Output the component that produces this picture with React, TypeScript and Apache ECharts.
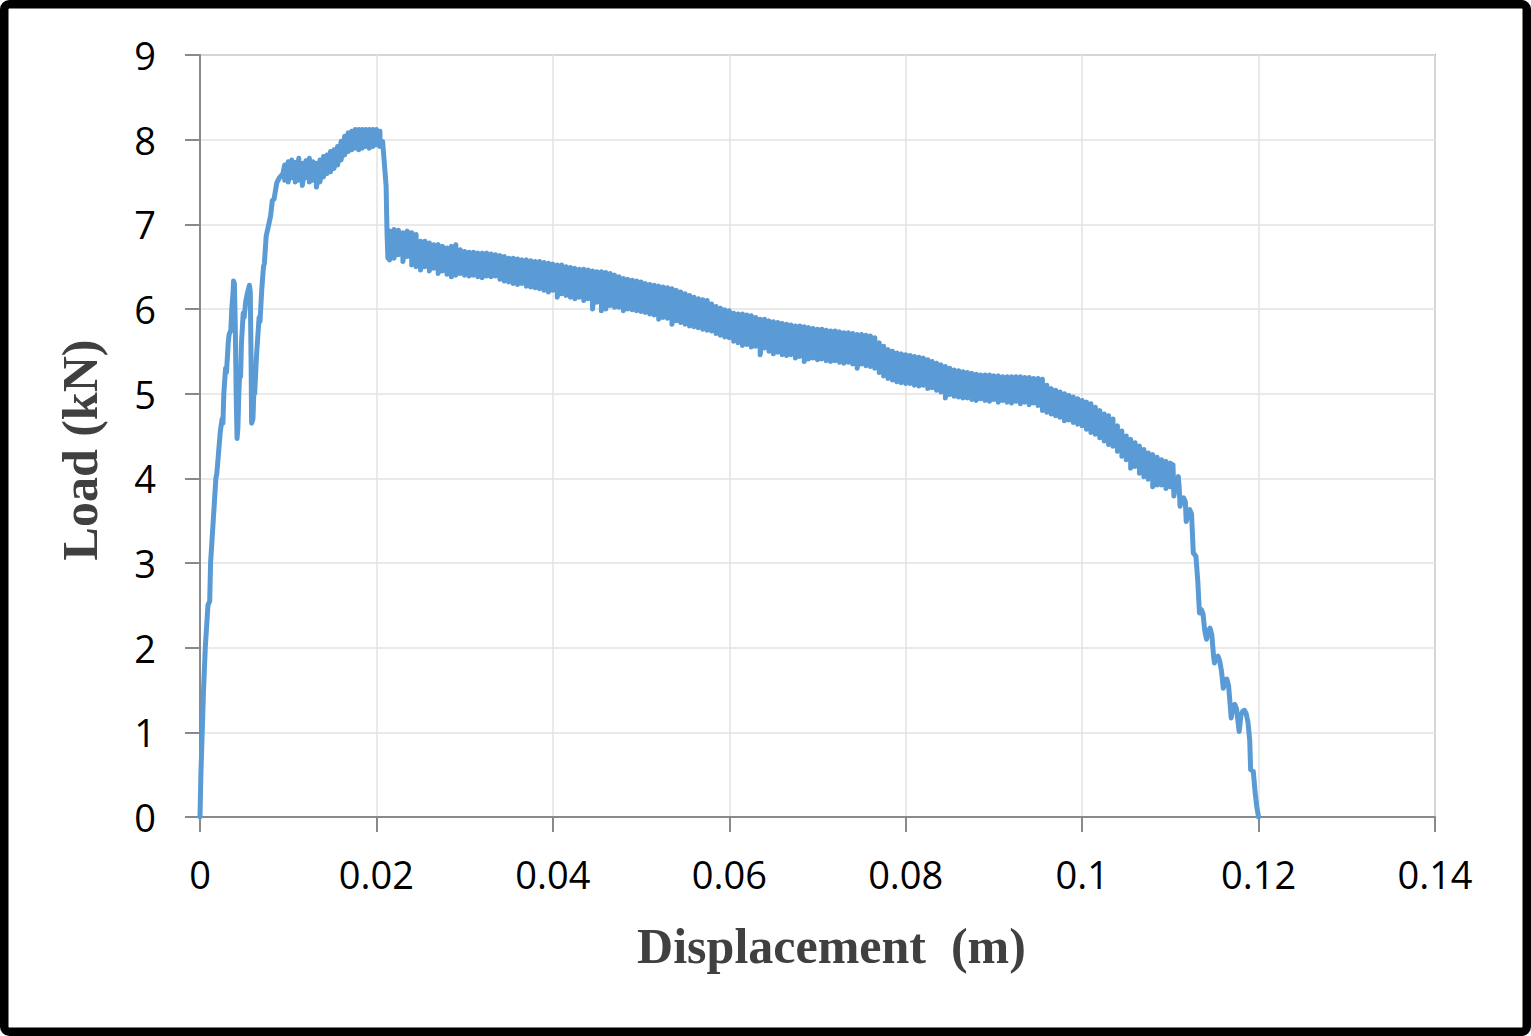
import React, { useEffect, useRef } from "react";
import * as echarts from "echarts";

// Displacement (m) vs Load (kN).
// Rising branch: [displacement, load]
const riseSegment: [number, number][] = [
  [0, 0], [0.0001, 0.5], [0.00025, 1.0], [0.0004, 1.5], [0.0006, 2.0], [0.0009, 2.5], [0.0011, 2.55],
  [0.0012, 3.0], [0.0015, 3.5], [0.0018, 4.0], [0.0019, 4.05], [0.0021, 4.3], [0.0023, 4.55], [0.0025, 4.7],
  [0.0026, 4.65], [0.0027, 5.0], [0.0029, 5.3], [0.003, 5.25], [0.0032, 5.6], [0.0033, 5.7], [0.0035, 5.75],
  [0.0036, 6.0], [0.00375, 6.2], [0.0038, 6.33], [0.0039, 6.3], [0.004, 5.8], [0.0041, 5.0], [0.0042, 4.47],
  [0.0043, 4.6], [0.0044, 5.0], [0.0045, 5.23], [0.0046, 5.2], [0.0047, 5.6], [0.0049, 5.95], [0.005, 5.9],
  [0.0052, 6.1], [0.0054, 6.2], [0.0056, 6.28], [0.0057, 6.2], [0.0058, 5.3], [0.00585, 4.65], [0.006, 4.7],
  [0.0061, 5.0], [0.0062, 5.0], [0.0064, 5.44], [0.0067, 5.9], [0.0068, 5.85], [0.007, 6.23], [0.0072, 6.5],
  [0.0073, 6.54], [0.0075, 6.86], [0.0078, 7.0], [0.008, 7.1], [0.0082, 7.28], [0.0084, 7.3], [0.0087, 7.49],
  [0.009, 7.55], [0.0094, 7.6],
];

// Noisy peak plateau: [displacement, high load, low load] of each oscillation
const peakPlateau: [number, number, number][] = [
  [0.0096, 7.7, 7.52], [0.01, 7.74, 7.5], [0.0104, 7.76, 7.55], [0.0108, 7.73, 7.5], [0.0112, 7.78, 7.52],
  [0.0116, 7.72, 7.46], [0.012, 7.75, 7.55], [0.0124, 7.78, 7.5], [0.0128, 7.74, 7.52], [0.0132, 7.72, 7.44],
  [0.0136, 7.76, 7.5], [0.014, 7.8, 7.56], [0.0144, 7.82, 7.6], [0.0148, 7.86, 7.62], [0.0152, 7.88, 7.66],
  [0.0156, 7.92, 7.7], [0.016, 7.98, 7.76], [0.0164, 8.04, 7.82], [0.0168, 8.08, 7.86], [0.0172, 8.1, 7.88],
  [0.0176, 8.12, 7.9], [0.018, 8.12, 7.88], [0.0184, 8.12, 7.9], [0.0188, 8.12, 7.92], [0.0192, 8.12, 7.9],
  [0.0196, 8.12, 7.92], [0.02, 8.12, 7.94], [0.0204, 8.1, 7.92],
];

// Sudden load drop after the peak: [displacement, load]
const peakDrop: [number, number][] = [
  [0.0207, 7.98], [0.0209, 7.72], [0.0211, 7.45], [0.0212, 6.9], [0.0213, 6.6],
];

// Noisy softening branch: [displacement, high load, low load]
const softeningSegment: [number, number, number][] = [
  [0.0215, 6.92, 6.58], [0.022, 6.94, 6.6], [0.0225, 6.93, 6.64], [0.023, 6.9, 6.56], [0.0235, 6.92, 6.62],
  [0.024, 6.9, 6.52], [0.0245, 6.88, 6.5], [0.025, 6.8, 6.46], [0.0255, 6.8, 6.5], [0.026, 6.78, 6.45],
  [0.0265, 6.76, 6.48], [0.027, 6.76, 6.42], [0.0275, 6.74, 6.45], [0.028, 6.72, 6.41], [0.0285, 6.74, 6.38],
  [0.029, 6.76, 6.4], [0.0295, 6.7, 6.42], [0.03, 6.68, 6.4], [0.0305, 6.67, 6.39], [0.031, 6.67, 6.4],
  [0.0315, 6.66, 6.38], [0.032, 6.66, 6.37], [0.0325, 6.66, 6.39], [0.033, 6.65, 6.38], [0.0335, 6.64, 6.39],
  [0.034, 6.63, 6.35], [0.0345, 6.62, 6.33], [0.035, 6.6, 6.32], [0.0355, 6.6, 6.3], [0.036, 6.59, 6.29],
  [0.0365, 6.58, 6.3], [0.037, 6.58, 6.27], [0.0375, 6.57, 6.26], [0.038, 6.56, 6.25], [0.0385, 6.56, 6.24],
  [0.039, 6.55, 6.22], [0.0395, 6.54, 6.2], [0.04, 6.53, 6.22], [0.0405, 6.52, 6.14], [0.041, 6.52, 6.18],
  [0.0415, 6.5, 6.16], [0.042, 6.49, 6.14], [0.0425, 6.48, 6.12], [0.043, 6.47, 6.14], [0.0435, 6.47, 6.1],
  [0.044, 6.46, 6.12], [0.0445, 6.45, 6.0], [0.045, 6.44, 6.08], [0.0455, 6.44, 5.98], [0.046, 6.43, 6.0],
  [0.0465, 6.42, 6.04], [0.047, 6.4, 6.02], [0.0475, 6.38, 6.02], [0.048, 6.36, 5.98], [0.0485, 6.35, 6.0],
  [0.049, 6.34, 5.99], [0.0495, 6.33, 5.98], [0.05, 6.32, 5.97], [0.0505, 6.3, 5.96], [0.051, 6.29, 5.94],
  [0.0515, 6.28, 5.93], [0.052, 6.27, 5.88], [0.0525, 6.26, 5.9], [0.053, 6.25, 5.89], [0.0535, 6.24, 5.82],
  [0.054, 6.22, 5.86], [0.0545, 6.2, 5.84], [0.055, 6.18, 5.82], [0.0555, 6.16, 5.8], [0.056, 6.14, 5.79],
  [0.0565, 6.12, 5.78], [0.057, 6.11, 5.76], [0.0575, 6.1, 5.75], [0.058, 6.06, 5.74], [0.0585, 6.03, 5.71],
  [0.059, 6.01, 5.69], [0.0595, 5.99, 5.67], [0.06, 5.98, 5.66], [0.0605, 5.95, 5.62], [0.061, 5.94, 5.6],
  [0.0615, 5.94, 5.57], [0.062, 5.93, 5.58], [0.0625, 5.92, 5.55], [0.063, 5.9, 5.56], [0.0635, 5.88, 5.46],
  [0.064, 5.88, 5.54], [0.0645, 5.86, 5.5], [0.065, 5.85, 5.47], [0.0655, 5.84, 5.49], [0.066, 5.83, 5.46],
  [0.0665, 5.82, 5.45], [0.067, 5.81, 5.46], [0.0675, 5.8, 5.42], [0.068, 5.8, 5.44], [0.0685, 5.79, 5.38],
  [0.069, 5.78, 5.41], [0.0695, 5.77, 5.42], [0.07, 5.76, 5.4], [0.0705, 5.76, 5.41], [0.071, 5.75, 5.39],
  [0.0715, 5.74, 5.38], [0.072, 5.74, 5.39], [0.0725, 5.73, 5.37], [0.073, 5.72, 5.36], [0.0735, 5.72, 5.37],
  [0.074, 5.71, 5.35], [0.0745, 5.7, 5.3], [0.075, 5.7, 5.35], [0.0755, 5.69, 5.33], [0.076, 5.68, 5.32],
  [0.0765, 5.66, 5.3], [0.077, 5.6, 5.25], [0.0775, 5.56, 5.21], [0.078, 5.52, 5.18], [0.0785, 5.5, 5.16],
  [0.079, 5.48, 5.14], [0.0795, 5.47, 5.13], [0.08, 5.46, 5.12], [0.0805, 5.45, 5.12], [0.081, 5.44, 5.1],
  [0.0815, 5.43, 5.09], [0.082, 5.42, 5.1], [0.0825, 5.4, 5.06], [0.083, 5.38, 5.07], [0.0835, 5.36, 5.04],
  [0.084, 5.34, 5.02], [0.0845, 5.32, 4.95], [0.085, 5.3, 4.99], [0.0855, 5.28, 4.97], [0.086, 5.27, 4.96],
  [0.0865, 5.26, 4.95], [0.087, 5.25, 4.95], [0.0875, 5.24, 4.93], [0.088, 5.23, 4.92], [0.0885, 5.22, 4.94],
  [0.089, 5.22, 4.92], [0.0895, 5.22, 4.91], [0.09, 5.21, 4.93], [0.0905, 5.21, 4.9], [0.091, 5.2, 4.92],
  [0.0915, 5.2, 4.9], [0.092, 5.2, 4.89], [0.0925, 5.2, 4.91], [0.093, 5.2, 4.88], [0.0935, 5.19, 4.9],
  [0.094, 5.19, 4.87], [0.0945, 5.18, 4.89], [0.095, 5.18, 4.86], [0.0955, 5.17, 4.8], [0.096, 5.1, 4.78],
  [0.0965, 5.06, 4.76], [0.097, 5.04, 4.74], [0.0975, 5.02, 4.72], [0.098, 5.0, 4.68], [0.0985, 4.98, 4.69],
  [0.099, 4.96, 4.66], [0.0995, 4.94, 4.64], [0.1, 4.92, 4.62], [0.1005, 4.9, 4.58], [0.101, 4.88, 4.54],
  [0.1015, 4.84, 4.52], [0.102, 4.8, 4.48], [0.1025, 4.76, 4.44], [0.103, 4.74, 4.4], [0.1035, 4.7, 4.38],
  [0.104, 4.62, 4.32], [0.1045, 4.56, 4.26], [0.105, 4.5, 4.22], [0.1055, 4.46, 4.12], [0.106, 4.42, 4.14],
  [0.1065, 4.38, 4.06], [0.107, 4.34, 4.02], [0.1075, 4.3, 3.99], [0.108, 4.28, 3.9], [0.1085, 4.25, 3.92],
  [0.109, 4.22, 3.92], [0.1095, 4.2, 3.88], [0.11, 4.18, 3.9],
];

// Final failure branch: [displacement, load]
const failureSegment: [number, number][] = [
  [0.1103, 4.16], [0.1104, 3.79], [0.1107, 3.98], [0.1109, 4.02], [0.111, 3.9], [0.1111, 3.67], [0.1113, 3.76],
  [0.1115, 3.77], [0.1117, 3.72], [0.1118, 3.49], [0.112, 3.58], [0.1122, 3.63], [0.1124, 3.58], [0.1126, 3.12],
  [0.1129, 3.08], [0.1131, 2.8], [0.1133, 2.41], [0.1135, 2.45], [0.1137, 2.4], [0.1139, 2.2], [0.1141, 2.1],
  [0.1143, 2.2], [0.1145, 2.23], [0.1147, 2.15], [0.1149, 1.9], [0.115, 1.82], [0.1152, 1.88], [0.1154, 1.9],
  [0.1156, 1.84], [0.1158, 1.72], [0.116, 1.52], [0.1162, 1.62], [0.1164, 1.63], [0.1166, 1.55], [0.1168, 1.3],
  [0.1169, 1.17], [0.1171, 1.3], [0.1173, 1.33], [0.1175, 1.28], [0.1177, 1.1], [0.1178, 1.01], [0.118, 1.2],
  [0.1182, 1.25], [0.1184, 1.26], [0.1186, 1.22], [0.1188, 1.12], [0.119, 0.9], [0.1191, 0.56], [0.1194, 0.54],
  [0.1196, 0.3], [0.1198, 0.12], [0.12, 0],
];

const xTickLabels = ["0", "0.02", "0.04", "0.06", "0.08", "0.1", "0.12", "0.14"];
const yTickLabels = ["0", "1", "2", "3", "4", "5", "6", "7", "8", "9"];

const W = 1531;
const H = 1036;

const oscillation = (rows: [number, number, number][]): [number, number][] =>
  rows.flatMap(([x, hi, lo]) => [[x, hi], [x, lo]] as [number, number][]);

export default function App() {
  const ref = useRef<HTMLDivElement>(null);
  useEffect(() => {
    if (!ref.current) return;
    const chart = echarts.init(ref.current, undefined, { renderer: "svg", width: W, height: H });
    const data = [
      ...riseSegment,
      ...oscillation(peakPlateau),
      ...peakDrop,
      ...oscillation(softeningSegment),
      ...failureSegment,
    ];
    const labelFont = '"Open Sans", "Noto Sans", sans-serif';
    const titleFont = '"Liberation Serif", "DejaVu Serif", serif';
    chart.setOption({
      animation: false,
      backgroundColor: "#ffffff",
      grid: {
        left: 200,
        right: 96,
        top: 55,
        bottom: 219,
        show: true,
        borderColor: "#ababab",
        borderWidth: 2,
        backgroundColor: "transparent",
      },
      xAxis: {
        type: "value",
        min: 0,
        max: 0.14,
        interval: 0.02,
        name: "Displacement  (m)",
        nameLocation: "middle",
        nameGap: 104,
        nameTextStyle: {
          fontFamily: titleFont,
          fontWeight: "bold",
          fontSize: 50,
          color: "#404040",
          padding: [0, 0, 0, 28],
        },
        axisLine: { show: true, onZero: false, lineStyle: { color: "#898989", width: 2 } },
        axisTick: { show: true, inside: false, length: 15, lineStyle: { color: "#898989", width: 2 } },
        axisLabel: {
          fontFamily: labelFont,
          fontSize: 38,
          color: "#000",
          margin: 38,
          formatter: (v: number) => {
            const i = Math.round(v / 0.02);
            return xTickLabels[i] ?? String(v);
          },
        },
        splitLine: { show: true, lineStyle: { color: "#e3e3e3", width: 1.5 } },
      },
      yAxis: {
        type: "value",
        min: 0,
        max: 9,
        interval: 1,
        name: "Load (kN)",
        nameLocation: "middle",
        nameRotate: 90,
        nameGap: 95,
        nameTextStyle: {
          fontFamily: titleFont,
          fontWeight: "bold",
          fontSize: 50,
          color: "#404040",
          padding: [0, 28, 0, 0],
        },
        axisLine: { show: true, onZero: false, lineStyle: { color: "#898989", width: 2 } },
        axisTick: { show: true, inside: false, length: 15, lineStyle: { color: "#898989", width: 2 } },
        axisLabel: {
          fontFamily: labelFont,
          fontSize: 38,
          color: "#000",
          margin: 44,
          formatter: (v: number) => yTickLabels[Math.round(v)] ?? String(v),
        },
        splitLine: { show: true, lineStyle: { color: "#e3e3e3", width: 1.5 } },
      },
      series: [
        {
          type: "line",
          data,
          showSymbol: false,
          smooth: false,
          clip: false,
          lineStyle: { color: "#5b9bd5", width: 5, join: "round", cap: "round" },
          emphasis: { disabled: true },
        },
      ],
      graphic: [
        {
          type: "rect",
          silent: true,
          z: 100,
          shape: { x: 4.25, y: 4.25, width: W - 8.5, height: H - 8.5, r: 5 },
          style: { fill: "none", stroke: "#000", lineWidth: 8.5 },
        },
      ],
    });
    return () => chart.dispose();
  }, []);
  return (
    <div
      ref={ref}
      style={{ position: "absolute", left: 0, top: 0, width: W, height: H, background: "#fff" }}
    />
  );
}
